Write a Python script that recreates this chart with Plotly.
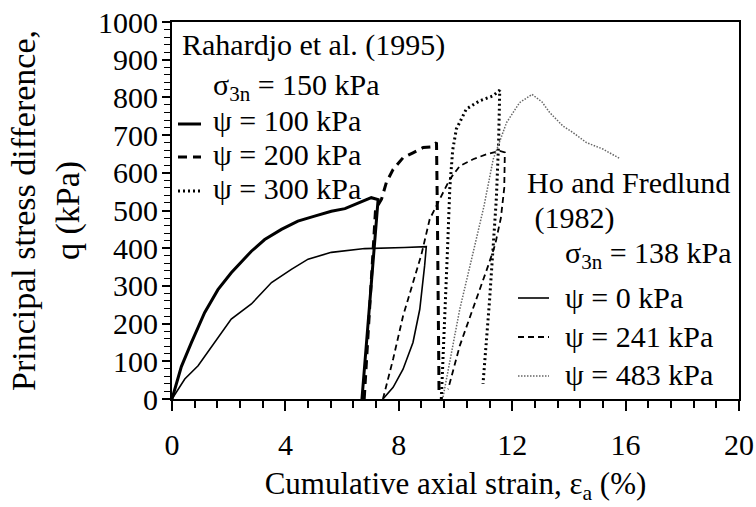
import plotly.graph_objects as go

# Rahardjo et al. (1995), multistage test, sigma_3n = 150 kPa
rah_100_x = [0, 0.33, 0.68, 1.15, 1.62, 2.09, 2.8, 3.27, 3.86, 4.44, 5.03, 5.62, 6.1, 6.33, 6.56, 7.03, 7.27, 6.70]
rah_100_y = [0, 86, 149, 229, 290, 335, 392, 423, 450, 472, 485, 498, 505, 512, 521, 534, 529, 0]
rah_200_x = [6.78, 7.18, 7.39, 7.56, 7.8, 8.15, 8.5, 8.86, 9.15, 9.33, 9.36, 9.42]
rah_200_y = [0, 503, 530, 574, 609, 640, 653, 667, 669, 680, 500, 10]
rah_300_x = [9.5, 9.62, 9.72, 9.8, 9.9, 10.03, 10.38, 10.85, 11.32, 11.56, 11.52, 11.44, 11.2, 10.97]
rah_300_y = [0, 200, 400, 560, 660, 716, 769, 791, 804, 819, 680, 530, 260, 40]

# Ho and Fredlund (1982), sigma_3n = 138 kPa
ho_0_x = [0, 0.45, 0.92, 1.51, 2.09, 2.8, 3.51, 4.21, 4.8, 5.62, 6.21, 6.8, 8.2, 8.97, 8.91, 8.74, 8.5, 8.15, 7.8, 7.44]
ho_0_y = [0, 53, 88, 150, 212, 252, 309, 344, 371, 389, 393, 399, 402, 404, 353, 238, 150, 79, 31, 0]
ho_241_x = [7.44, 7.8, 8.15, 8.5, 8.8, 9.09, 9.44, 9.5, 9.8, 10.15, 10.62, 11.09, 11.56, 11.74, 11.72, 11.6, 11.4, 11.15, 10.62, 10.15, 9.74]
ho_241_y = [0, 106, 220, 309, 384, 477, 530, 538, 583, 618, 636, 649, 658, 654, 560, 480, 410, 353, 238, 141, 26]
ho_483_x = [9.56, 10.15, 10.62, 11.0, 11.33, 11.8, 12.26, 12.7, 13.05, 13.32, 13.79, 14.14, 14.62, 15.2, 15.79]
ho_483_y = [5, 238, 388, 510, 636, 733, 786, 808, 788, 760, 724, 707, 680, 663, 638]

x_ticks = [0, 4, 8, 12, 16, 20]
y_ticks = [0, 100, 200, 300, 400, 500, 600, 700, 800, 900, 1000]
# minor tick marks: five subdivisions per major interval
x_minor = [round(i * 0.8, 1) for i in range(26) if i % 5]
y_minor = [i * 20 for i in range(51) if i % 5]

FONT = "Liberation Serif"
FS = 30

thick_solid = dict(color="black", width=3)
thick_dash = dict(color="black", width=3, dash="9px,6px")
thick_dot = dict(color="black", width=3, dash="2px,3px")
thin_solid = dict(color="black", width=1.6)
thin_dash = dict(color="black", width=1.8, dash="6px,4px")
thin_dot = dict(color="#666666", width=1.5, dash="1.5px,1.5px")

series = [
    (rah_100_x, rah_100_y, thick_solid),
    (rah_200_x, rah_200_y, thick_dash),
    (rah_300_x, rah_300_y, thick_dot),
    (ho_0_x, ho_0_y, thin_solid),
    (ho_241_x, ho_241_y, thin_dash),
    (ho_483_x, ho_483_y, thin_dot),
]

fig = go.Figure()
for xs, ys, ln in series:
    fig.add_trace(go.Scatter(x=xs, y=ys, mode="lines", line=ln,
                             showlegend=False, hoverinfo="skip"))

# plot area in pixels (for placing the key texts)
L, R, T, B = 172, 739, 22, 399


def px(x):
    return (x - L) / (R - L)


def py(y):
    return (B - y) / (B - T)


annotations = []
shapes = []


def label(text, x, y):
    annotations.append(dict(text=text, x=px(x), y=py(y), xref="paper", yref="paper",
                            xanchor="left", yanchor="middle", showarrow=False,
                            font=dict(family=FONT, size=FS, color="black")))


def key(x0, x1, y, ln):
    shapes.append(dict(type="line", xref="paper", yref="paper",
                       x0=px(x0), x1=px(x1), y0=py(y), y1=py(y), line=ln))


label("Rahardjo et al. (1995)", 180, 45)
label("σ<sub>3n</sub> = 150 kPa", 211, 87)
label("ψ = 100 kPa", 211, 121)
label("ψ = 200 kPa", 211, 155)
label("ψ = 300 kPa", 211, 188)
key(178, 201, 124, thick_solid)
key(178, 201, 157, thick_dash)
key(178, 201, 191, thick_dot)

label("Ho and Fredlund", 525, 183)
label(" (1982)", 525, 218)
label("σ<sub>3n</sub> = 138 kPa", 563, 255)
label("ψ = 0 kPa", 563, 297)
label("ψ = 241 kPa", 563, 336)
label("ψ = 483 kPa", 563, 374)
key(518, 549, 298, thin_solid)
key(518, 549, 337, thin_dash)
key(518, 549, 376, thin_dot)

fig.update_layout(
    template="none",
    width=756, height=507,
    margin=dict(l=L, r=756 - R, t=T, b=507 - B),
    paper_bgcolor="white", plot_bgcolor="white",
    font=dict(family=FONT, size=FS, color="black"),
    annotations=annotations, shapes=shapes,
    xaxis=dict(range=[0, 20], tickmode="array", tickvals=x_ticks,
               ticks="outside", ticklen=10, tickwidth=1.5, tickcolor="black",
               minor=dict(tickmode="array", tickvals=x_minor, ticks="outside", ticklen=7,
                          tickwidth=1.5, tickcolor="black", showgrid=False),
               showline=True, linecolor="black", linewidth=2, mirror=True,
               showgrid=False, zeroline=False, automargin=False,
               ticklabelstandoff=8,
               title=dict(text="Cumulative axial strain, ε<sub>a</sub> (%)", standoff=12,
                          font=dict(family=FONT, size=31))),
    yaxis=dict(range=[0, 1000], tickmode="array", tickvals=y_ticks,
               ticks="outside", ticklen=8, tickwidth=1.5, tickcolor="black",
               minor=dict(tickmode="array", tickvals=y_minor, ticks="outside", ticklen=6,
                          tickwidth=1.2, tickcolor="black", showgrid=False),
               showline=True, linecolor="black", linewidth=2, mirror=True,
               showgrid=False, zeroline=False, automargin=False,
               ticklabelstandoff=-2,
               title=dict(text="Principal stress difference,<br>q (kPa)", standoff=8,
                          font=dict(family=FONT, size=34))),
)

fig.write_html("out.html")
